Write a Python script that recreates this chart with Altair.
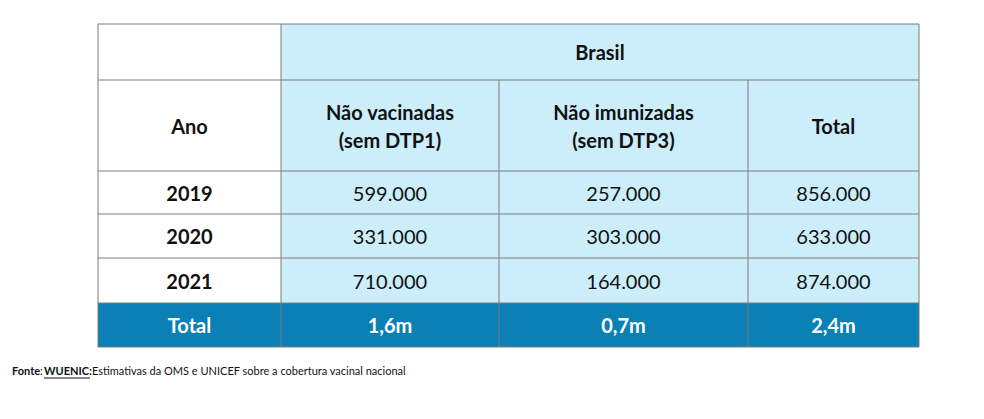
import altair as alt
import pandas as pd

# ---- table content ----
title_text = "Brasil"
col_headers = ["Ano", "Não vacinadas\n(sem DTP1)", "Não imunizadas\n(sem DTP3)", "Total"]
years = ["2019", "2020", "2021"]
nao_vacinadas = ["599.000", "331.000", "710.000"]
nao_imunizadas = ["257.000", "303.000", "164.000"]
totais = ["856.000", "633.000", "874.000"]
total_row = ["Total", "1,6m", "0,7m", "2,4m"]
footer_parts = ["Fonte", ":", "WUENIC:", "Estimativas da OMS e UNICEF sobre a cobertura vacinal nacional"]

# ---- layout (page pixels) ----
col_edges = [98, 281, 499, 748, 919]
row_edges = [24, 80, 171, 214, 258, 303, 347]
LIGHT = "#CCEEFB"
DARK = "#0A80B4"
WHITE = "#FFFFFF"
LINE = "#7a7a7a"
FONT = "Lato"
LH = 28

cells = []
# header row 1
cells.append(dict(x=col_edges[0], x2=col_edges[1], y=row_edges[0], y2=row_edges[1], fill=WHITE,
                  label="", weight="bold", color="#111111"))
cells.append(dict(x=col_edges[1], x2=col_edges[4], y=row_edges[0], y2=row_edges[1], fill=LIGHT,
                  label=title_text, weight="bold", color="#111111"))
# header row 2
for i, h in enumerate(col_headers):
    cells.append(dict(x=col_edges[i], x2=col_edges[i + 1], y=row_edges[1], y2=row_edges[2],
                      fill=WHITE if i == 0 else LIGHT, label=h, weight="bold", color="#111111"))
# data rows
for r in range(3):
    vals = [years[r], nao_vacinadas[r], nao_imunizadas[r], totais[r]]
    for i, v in enumerate(vals):
        cells.append(dict(x=col_edges[i], x2=col_edges[i + 1], y=row_edges[2 + r], y2=row_edges[3 + r],
                          fill=WHITE if i == 0 else LIGHT, label=v,
                          weight="bold" if i == 0 else "normal", color="#111111"))
# total row
for i, v in enumerate(total_row):
    cells.append(dict(x=col_edges[i], x2=col_edges[i + 1], y=row_edges[5], y2=row_edges[6],
                      fill=DARK, label=v, weight="bold", color="#FFFFFF"))

df = pd.DataFrame(cells)
df["cx"] = (df["x"] + df["x2"]) / 2
nlines = df["label"].str.count("\n")
df["cy"] = (df["y"] + df["y2"]) / 2 - nlines * LH / 2

# grid lines
lines = []
for yy in row_edges:
    lines.append(dict(x=col_edges[0], x2=col_edges[-1], y=yy, y2=yy))
for i, xx in enumerate(col_edges):
    top = row_edges[1] if i in (2, 3) else row_edges[0]
    lines.append(dict(x=xx, x2=xx, y=top, y2=row_edges[-1]))
ldf = pd.DataFrame(lines)

W, H = 968, 403
xs = alt.Scale(domain=[8, 8 + W], nice=False, zero=False)
ys = alt.Scale(domain=[8 + H, 8], nice=False, zero=False)
X = lambda f: alt.X(f, type="quantitative", scale=xs, axis=None)
Y = lambda f: alt.Y(f, type="quantitative", scale=ys, axis=None)

rects = alt.Chart(df).mark_rect(strokeWidth=0).encode(
    x=X("x"), x2="x2", y=Y("y"), y2="y2",
    fill=alt.Fill("fill:N", scale=None),
)

grid = alt.Chart(ldf).mark_rule(color=LINE, strokeWidth=1).encode(
    x=X("x"), x2="x2", y=Y("y"), y2="y2"
)

def text_layer(weight):
    sub = df[(df["weight"] == weight) & (df["label"] != "")]
    return alt.Chart(sub).mark_text(font=FONT, fontSize=20, fontWeight=weight, lineBreak="\n",
                                    lineHeight=LH, align="center", baseline="middle", dy=2).encode(
        x=X("cx"), y=Y("cy"), text="label:N", color=alt.Color("color:N", scale=None)
    )

# footer
fdf = pd.DataFrame(dict(
    label=footer_parts,
    x=[12, 40, 44, 92],
    y=[372, 372, 372, 372],
    weight=["bold", "normal", "bold", "normal"],
))
foot_bold = alt.Chart(fdf[fdf["weight"] == "bold"]).mark_text(
    font=FONT, fontSize=11, fontWeight="bold", align="left", baseline="middle", color="#111111"
).encode(x=X("x"), y=Y("y"), text="label:N")
foot_norm = alt.Chart(fdf[fdf["weight"] == "normal"]).mark_text(
    font=FONT, fontSize=11, fontWeight="normal", align="left", baseline="middle", color="#111111"
).encode(x=X("x"), y=Y("y"), text="label:N")
udf = pd.DataFrame(dict(x=[44], x2=[90], y=[378], y2=[378]))
underline = alt.Chart(udf).mark_rule(color="#111111", strokeWidth=1).encode(
    x=X("x"), x2="x2", y=Y("y"), y2="y2"
)

chart = alt.layer(
    rects, grid, text_layer("bold"), text_layer("normal"), foot_bold, foot_norm, underline
).properties(
    width=W, height=H, autosize=alt.AutoSizeParams(type="none"), padding=0,
    background="#FFFFFF",
).configure_view(stroke=None)

chart.save("out.html", embed_options={"renderer": "svg", "actions": False})
